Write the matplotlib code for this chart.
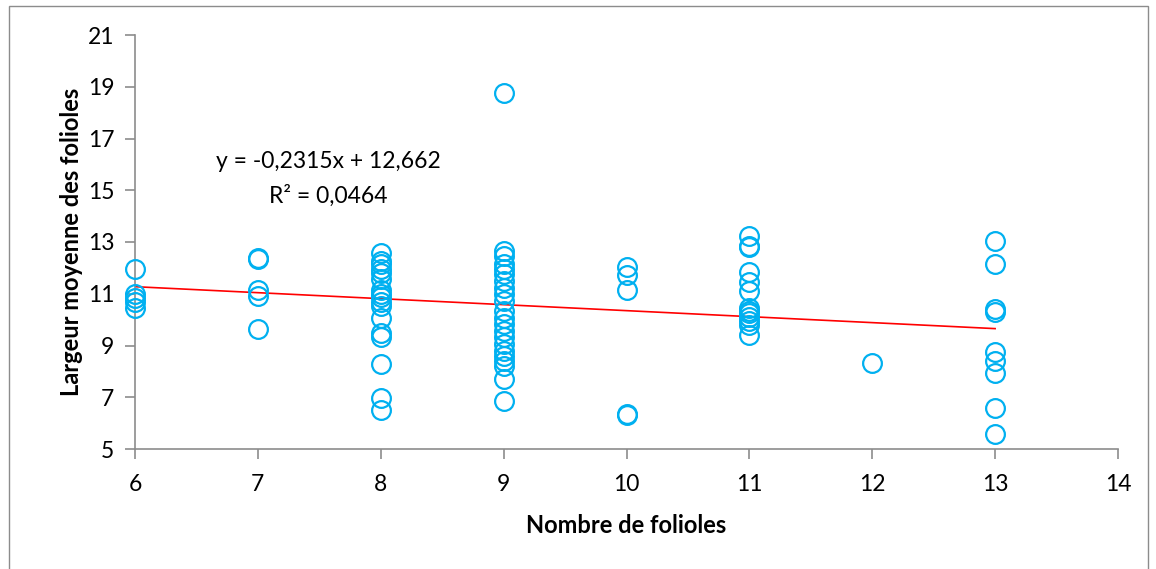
import matplotlib
matplotlib.use("Agg")
import matplotlib.pyplot as plt
from matplotlib.patches import Rectangle
import numpy as np

plt.rcParams['font.family'] = ['Lato', 'DejaVu Sans']

# Data: number of leaflets (x) and mean leaflet width (y)
x6 = [11.95, 11.0, 10.85, 10.7, 10.45]
x7 = [12.4, 12.35, 11.15, 10.9, 9.65]
x8 = [12.56, 12.28, 12.15, 11.96, 11.79, 11.57, 11.14, 10.99, 10.86, 10.69,
      10.54, 10.06, 9.5, 9.34, 8.28, 6.99, 6.5]
x9 = [18.75, 12.66, 12.47, 12.15, 11.96, 11.76, 11.5, 11.24, 10.99, 10.73,
      10.34, 10.08, 9.83, 9.57, 9.31, 9.05, 8.79, 8.6, 8.41, 8.21, 7.7, 6.85]
x10 = [12.02, 11.72, 11.15, 6.35, 6.32]
x11 = [13.25, 12.85, 12.8, 11.85, 11.45, 11.1, 10.45, 10.35, 10.25, 10.1,
       9.95, 9.8, 9.4]
x12 = [8.34]
x13 = [13.05, 12.15, 10.4, 10.28, 8.73, 8.41, 7.92, 6.6, 5.57]

groups = {6: x6, 7: x7, 8: x8, 9: x9, 10: x10, 11: x11, 12: x12, 13: x13}

slope = -0.2315
intercept = 12.662
trend_x = [6, 13]

eq_label = "y = -0,2315x + 12,662"
r2_label = "R² = 0,0464"
xlabel = "Nombre de folioles"
ylabel = "Largeur moyenne des folioles"
xticks = [6, 7, 8, 9, 10, 11, 12, 13, 14]
yticks = [5, 7, 9, 11, 13, 15, 17, 19, 21]

W, H = 1156, 569
fig = plt.figure(figsize=(W / 100, H / 100), dpi=100)
fig.patch.set_facecolor('white')

# outer chart border
fig.add_artist(Rectangle((9 / W, 0 - 0.01), (1148 - 9) / W, 1 - 6 / H + 0.01,
                         transform=fig.transFigure, fill=False,
                         edgecolor='#8c8c8c', linewidth=1.0, zorder=0))

ax = fig.add_axes([135 / W, 1 - 449 / H, (1118 - 135) / W, (449 - 35) / H])

xs = []
ys = []
for k, vals in groups.items():
    xs += [k] * len(vals)
    ys += vals

ax.plot(xs, ys, linestyle='none', marker='o', markersize=13.5,
        markerfacecolor='none', markeredgecolor='#00B0F0',
        markeredgewidth=1.6, zorder=3, clip_on=False)

tx = np.array(trend_x, dtype=float)
ax.plot(tx, slope * tx + intercept, color='#FF0000', linewidth=1.2, zorder=2)

ax.set_xlim(6, 14)
ax.set_ylim(5, 21)
ax.set_xticks(xticks)
ax.set_yticks(yticks)
ax.set_xticklabels([str(v) for v in xticks], fontsize=16.5)
ax.set_yticklabels([str(v) for v in yticks], fontsize=16.5)

for s in ['top', 'right']:
    ax.spines[s].set_visible(False)
for s in ['left', 'bottom']:
    ax.spines[s].set_color('#8c8c8c')
    ax.spines[s].set_linewidth(1.2)

ax.tick_params(axis='both', direction='out', length=7, width=1.2,
               color='#8c8c8c', labelcolor='black')
ax.tick_params(axis='x', pad=11)
ax.tick_params(axis='y', pad=8)

ax.set_xlabel(xlabel, fontsize=17, fontweight='bold', labelpad=14)
ax.set_ylabel(ylabel, fontsize=17, fontweight='bold', labelpad=3)

fig.text(328 / W, 1 - 162 / H, eq_label, ha='center', va='center', fontsize=16.5)
fig.text(328 / W, 1 - 196 / H, r2_label, ha='center', va='center', fontsize=16.5)

fig.savefig('out.png', dpi=100, facecolor='white')
